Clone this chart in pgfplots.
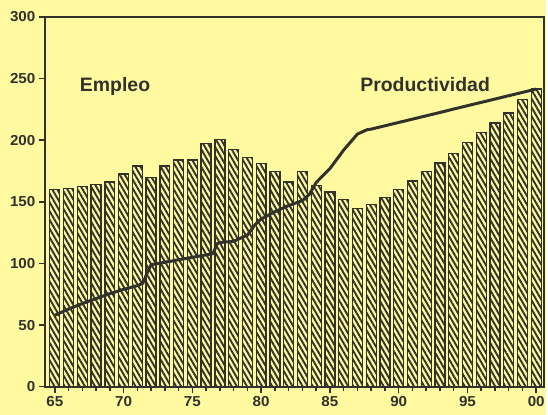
\documentclass[border=0pt]{standalone}
\usepackage{fontspec}
\setmainfont{Liberation Sans}
\newfontfamily\tickfont[FakeStretch=1.05]{Liberation Sans}
\usepackage{pgfplots}
\pgfplotsset{compat=1.18}
\usetikzlibrary{patterns.meta}
\definecolor{bg}{RGB}{255,250,160}
\definecolor{ink}{RGB}{50,50,45}
\begin{document}
\begin{tikzpicture}
\fill[bg] (-45pt,-28pt) rectangle (503pt,388pt);
\begin{axis}[
  scale only axis, width=501pt, height=371pt,
  at={(0,0)}, anchor=south west,
  xmin=1964.275, xmax=2000.58, ymin=0, ymax=300,
  axis line style={ink, line width=2.2pt},
  xtick={1965,1970,...,2000},
  xticklabels={65,70,75,80,85,90,95,00},
  minor xtick={1965,...,2000},
  ytick={0,50,...,300},
  tick align=outside, xtick pos=left, ytick pos=left,
  major tick length=6pt, minor tick length=4pt,
  tick style={ink, line width=1.5pt},
  tick label style={font=\tickfont\bfseries\fontsize{14.5}{14.5}\selectfont, text=ink},
  /pgf/number format/assume math mode=true,
  clip=true,
]
\addplot[ybar, bar width=10pt, draw=ink, line width=1.3pt,
  pattern={Lines[angle=-60,distance=4.4pt,line width=1.9pt]}, pattern color=ink]
  coordinates {
  (1965,160) (1966,161) (1967,162.5) (1968,164) (1969,166) (1970,172.5)
  (1971,179) (1972,169.5) (1973,179) (1974,184) (1975,184) (1976,197.5)
  (1977,200.5) (1978,192.5) (1979,186) (1980,181) (1981,174.5) (1982,166)
  (1983,174.5) (1984,163) (1985,158) (1986,152) (1987,144.5) (1988,148)
  (1989,153.5) (1990,160) (1991,167) (1992,174.5) (1993,181.5) (1994,189.5)
  (1995,198) (1996,206) (1997,214) (1998,222) (1999,233) (2000,241.5)
  };
\addplot[ink, line width=3pt, line join=round] coordinates {
  (1965,58) (1966,63) (1967,67.5) (1968,71.5) (1969,75.5) (1970,79)
  (1971,82) (1971.4,84) (1971.7,92) (1972,99) (1973,101) (1974,103)
  (1975,105) (1976,107) (1976.5,108) (1976.8,116) (1977,117) (1978,118)
  (1979,123) (1979.6,132) (1980,136) (1981,142) (1982,147) (1983,151)
  (1983.5,156) (1984,165.7) (1985,177) (1986,192) (1987,205) (1987.7,208.5)
  (1988,209) (1989,211.7) (1990,214.4) (1991,217.1) (1992,219.8)
  (1993,222.5) (1994,225.3) (1995,228) (1996,230.7) (1997,233.4)
  (1998,236.1) (1999,238.8) (2000,241.5)
  };
\node[font=\bfseries\fontsize{19.5}{20}\selectfont, text=ink] at (axis cs:1969.38,243.3) {Empleo};
\node[font=\bfseries\fontsize{19.5}{20}\selectfont, text=ink] at (axis cs:1991.92,245) {Productividad};
\end{axis}
\end{tikzpicture}
\end{document}
